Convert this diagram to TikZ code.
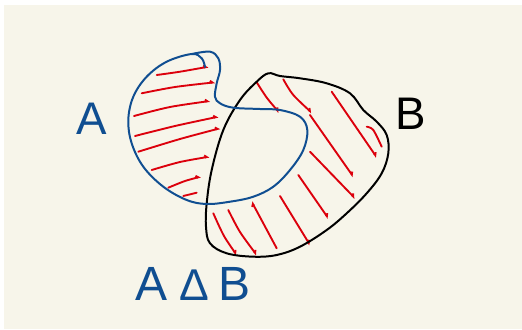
\documentclass[tikz,border=0pt]{standalone}
\usepackage{fontspec}
\setmainfont{Liberation Sans}
\usetikzlibrary{arrows.meta}
\definecolor{paper}{RGB}{247,245,234}
\definecolor{penblue}{RGB}{16,78,145}
\definecolor{penred}{RGB}{220,0,12}
\tikzset{
  outline/.style={line width=1.7pt,line cap=round,line join=round},
  hatch/.style={draw=penred,line width=1.6pt,line cap=round,line join=round},
  flick/.style={-{Straight Barb[left,length=2pt,width=3.5pt]}},
  letter/.style={inner sep=0pt,font=\fontsize{39}{40}\selectfont}
}
\begin{document}
\begin{tikzpicture}[x=0.03cm,y=-0.03cm]
  % paper
  \useasboundingbox (0,0) rectangle (522,329);
  \fill[white] (0,0) rectangle (522,329);
  \fill[paper] (4,5) rectangle (522,329);
  % hatching of A minus B
  \draw[hatch,flick] plot[smooth] coordinates{(156.7,75) (180,71.7) (208.3,66.7)};
  \draw[hatch,flick] plot[smooth] coordinates{(141.7,93.3) (175,87) (215,82.3)};
  \draw[hatch,flick] plot[smooth] coordinates{(134,116) (170,107) (210,101)};
  \draw[hatch,flick] plot[smooth] coordinates{(135,136) (175,126) (218.3,116.7)};
  \draw[hatch,flick] plot[smooth] coordinates{(138.3,151.7) (180,139) (220,128.3)};
  \draw[hatch,flick] plot[smooth] coordinates{(151.7,170) (180,162) (209.3,156.7)};
  \draw[hatch,flick] plot[smooth] coordinates{(168.3,187.7) (185,181) (200.7,176.7)};
  \draw[hatch] (183.3,196)--(196.7,192.7);
  % hatching of B minus A
  \draw[hatch,flick] plot[smooth] coordinates{(256.7,82.3) (267,98) (279,112.3)};
  \draw[hatch,flick] plot[smooth] coordinates{(283.3,79.3) (293.3,95) (311.7,112.7)};
  \draw[hatch,flick] (331.7,91.7)--(376.7,157.3);
  \draw[hatch] plot[smooth] coordinates{(366.7,126.7) (373.3,130) (381.7,146.7)};
  \draw[hatch,flick] (310,115)--(353.3,176.7);
  \draw[hatch,flick] (310,151.7)--(355,198.3);
  \draw[hatch,flick] (298.3,175)--(328.3,218.3);
  \draw[hatch,flick] (280,196)--(310,245);
  \draw[hatch,flick] (276.7,248.3)--(251.7,201.7);
  \draw[hatch,flick] plot[smooth] coordinates{(228.3,210) (240,232) (256.7,255)};
  \draw[hatch,flick] plot[smooth] coordinates{(213.3,213.3) (224,236) (236.7,255)};
  % set B
  \draw[outline,black] plot[smooth cycle,tension=0.6] coordinates{
    (268.3,73.3) (280,76) (300,78.3) (326.7,83.3) (350,93.3) (363.3,110)
    (376.7,121.7) (386.7,135) (388.3,153.3) (381.7,173.3) (366.7,193.3)
    (346.7,213.3) (326.7,230) (300,246.7) (276.7,255) (253.3,256.7)
    (226.7,253.3) (210,243.3) (206,226.7) (206.7,203.3) (211.7,170)
    (223.3,130) (240,100) (256.7,81.7)};
  % set A, with its curl at the top
  \draw[outline,penblue] plot[smooth,tension=0.6] coordinates{
    (205,67) (201.7,58.3) (191.7,54) (166.7,61.7) (146.7,76.7) (133.3,96.7)
    (128.3,120) (131.7,143.3) (143.3,166.7) (163.3,186.7) (186.7,200)
    (206.7,204) (230,201.7) (253.3,196.7) (273.3,186.7) (290,170)
    (303.3,150) (307.3,130) (300,116.7) (280,110) (260,109) (233.3,107.7)
    (220,103.3) (215,96.7) (216.7,83.3) (220,70) (218.3,58.3) (210,51.7)
    (191.7,54)};
  % labels
  \node[letter,text=penblue] (labA) at (92,119) {A};
  \node[letter] (labB) at (411,114) {B};
  \node[inner sep=0pt,text=penblue,anchor=base west,font=\fontsize{41}{42}\selectfont] (symdiff) at (135,300)
    {A\hspace{0.25em}{\fontsize{38}{38}\selectfont Δ}\hspace{0.2em}B};
\end{tikzpicture}
\end{document}
